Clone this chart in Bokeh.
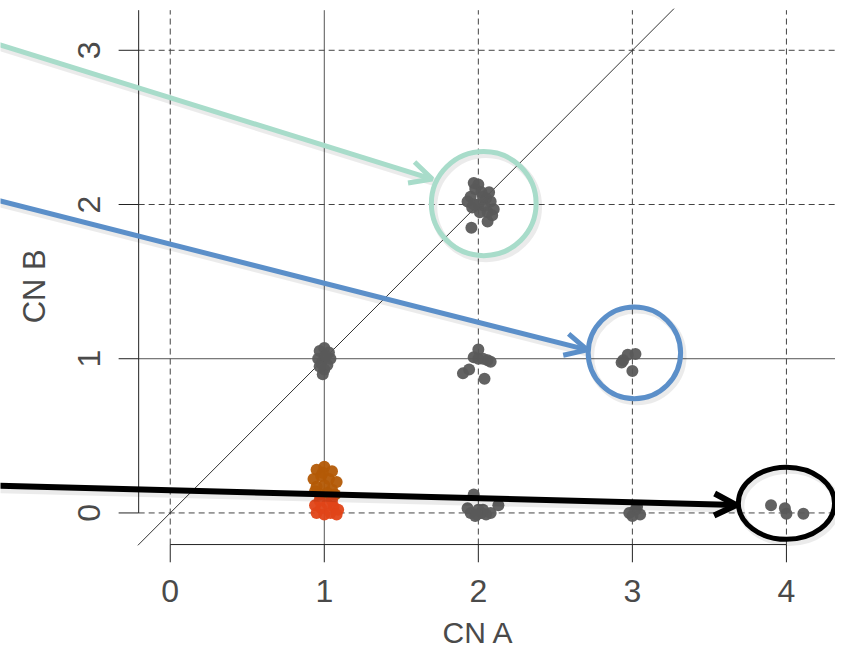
import math
from bokeh.plotting import figure
from bokeh.models import Range1d, Arrow, OpenHead
from bokeh.core.properties import value
from bokeh.embed import file_html
from bokeh.resources import INLINE

# ---- data ----
gray_x = [1.95, 1.98, 2.00, 2.02, 2.05, 1.93, 1.96, 2.00, 2.04, 2.08, 2.10, 2.06, 2.01, 1.97, 2.03, 2.07, 1.955, 2.06, 2.09, 1.97,
          0.97, 1.00, 1.03, 0.96, 1.00, 1.04, 0.98, 1.02, 1.00, 0.99, 1.01, 0.97,
          2.00, 1.97, 2.06, 2.08, 1.94, 1.90, 2.04, 2.00, 2.03,
          3.02, 2.97, 2.94, 2.93, 3.00,
          1.95, 1.98, 2.02, 2.05, 2.00, 1.93, 2.08, 2.13, 1.97, 2.03, 1.99,
          2.98, 3.02, 3.05, 3.00, 3.03,
          3.90, 3.99, 4.00, 4.11]
gray_y = [2.05, 2.10, 2.13, 2.08, 2.04, 2.02, 1.98, 2.00, 1.99, 2.02, 1.97, 1.95, 1.95, 2.00, 2.05, 2.08, 1.85, 1.89, 1.93, 2.14,
          1.05, 1.07, 1.04, 1.00, 1.01, 1.00, 0.97, 0.96, 0.93, 0.90, 1.02, 0.95,
          1.06, 1.01, 0.99, 0.98, 0.93, 0.905, 0.87, 1.00, 1.00,
          1.03, 1.025, 0.99, 0.975, 0.92,
          0.00, -0.02, 0.00, -0.01, 0.02, 0.03, 0.00, 0.05, 0.12, 0.02, -0.01,
          0.00, 0.02, -0.01, -0.02, 0.04,
          0.05, 0.03, -0.005, -0.005]
orange_x = [0.95, 1.00, 1.05, 0.93, 0.98, 1.03, 1.08, 0.95, 1.00, 1.05, 0.97, 1.02, 1.07, 0.94, 0.99]
orange_y = [0.28, 0.30, 0.27, 0.22, 0.24, 0.22, 0.20, 0.17, 0.18, 0.15, 0.12, 0.13, 0.12, 0.14, 0.26]
red_x = [0.94, 0.98, 1.02, 1.06, 1.09, 0.95, 1.00, 1.04, 1.08, 0.97, 1.05]
red_y = [0.05, 0.03, 0.06, 0.04, 0.02, 0.00, -0.01, 0.00, -0.01, 0.08, 0.08]

x_ticks = [0, 1, 2, 3, 4]
y_ticks = [0, 1, 2, 3]
x_title = "CN A"
y_title = "CN B"

# annotation circles: (x, y, width, height, colour)
ann_circles = [(2.035, 2.006, 0.68, 0.675, "#a8dcca"),
               (3.013, 1.038, 0.60, 0.595, "#5b8fc9"),
               (4.000, 0.063, 0.624, 0.468, "#000000")]
# annotation arrows: (x_start, y_start, x_end, y_end, colour, width)
ann_arrows = [(-1.12, 3.040, 1.701, 2.165, "#a8dcca", 5),
              (-1.12, 2.027, 2.707, 1.057, "#5b8fc9", 5),
              (-1.12, 0.177, 3.675, 0.051, "#000000", 6)]

# ---- figure ----
p = figure(width=835, height=653, output_backend="svg", toolbar_location=None,
           x_range=Range1d(-1.1019, 4.3185), y_range=Range1d(-0.9114, 3.3228),
           x_axis_type=None, y_axis_type=None, min_border=0)
p.grid.visible = False
p.outline_line_color = None

ax = -0.205   # axis position (both)
top = 3.26
right = 4.4
dash = "6 4"
gcol = "#444444"

# grid lines
for t in x_ticks:
    if t == 1:
        p.line([t, t], [ax, top], line_color="#555555", line_width=1)
    else:
        p.line([t, t], [ax, top], line_color=gcol, line_width=1, line_dash=dash)
for t in y_ticks:
    if t == 1:
        p.line([ax, right], [t, t], line_color="#555555", line_width=1)
    else:
        p.line([ax, right], [t, t], line_color=gcol, line_width=1, line_dash=dash)

# axes
p.line([ax, ax], [0, top], line_color="#222222", line_width=1)
p.line([0, 4], [ax, ax], line_color="#222222", line_width=1)
for t in x_ticks:
    p.line([t, t], [ax, ax - 0.115], line_color="#222222", line_width=1)
for t in y_ticks:
    p.line([ax, ax - 0.13], [t, t], line_color="#222222", line_width=1)

# diagonal
p.line([-0.21, 3.27], [-0.21, 3.27], line_color="#333333", line_width=1)

# points
p.scatter(gray_x, gray_y, size=12, fill_color="#5a5a5a", line_color=None, fill_alpha=0.95)
p.scatter(orange_x, orange_y, size=12, fill_color="#b35a06", line_color=None, fill_alpha=0.95)
p.scatter(red_x, red_y, size=12, fill_color="#e04518", line_color=None, fill_alpha=0.95)

# tick labels
font = value("Liberation Sans")
p.text(x=x_ticks, y=[-0.506] * len(x_ticks), text=[str(t) for t in x_ticks],
       text_font=font, text_font_size="32px", text_color="#4a4a4a",
       text_align="center", text_baseline="middle")
p.text(x=[-0.529] * len(y_ticks), y=y_ticks, text=[str(t) for t in y_ticks],
       text_font=font, text_font_size="32px", text_color="#4a4a4a",
       text_align="center", text_baseline="middle", angle=math.pi / 2)
p.text(x=[2.0], y=[-0.775], text=[x_title], text_font=font, text_font_size="30px",
       text_color="#4a4a4a", text_align="center", text_baseline="middle")
p.text(x=[-0.879], y=[1.47], text=[y_title], text_font=font, text_font_size="31px",
       text_color="#4a4a4a", text_align="center", text_baseline="middle", angle=math.pi / 2)

# annotation shadows
sx, sy = 0.016, -0.02
for (cx, cy, w, h, c) in ann_circles:
    p.ellipse(x=[cx + sx], y=[cy + sy], width=[w], height=[h], fill_color=None,
              line_color="#000000", line_alpha=0.08, line_width=7)
for (x0, y0, x1, y1, c, lw) in ann_arrows:
    p.line([x0 + sx, x1 + sx], [y0 + sy, y1 + sy], line_color="#000000", line_alpha=0.08, line_width=lw + 3)

# annotations
for (cx, cy, w, h, c) in ann_circles:
    p.ellipse(x=[cx], y=[cy], width=[w], height=[h], fill_color=None, line_color=c, line_width=5)
for (x0, y0, x1, y1, c, lw) in ann_arrows:
    p.add_layout(Arrow(x_start=x0, y_start=y0, x_end=x1, y_end=y1, line_color=c, line_width=lw,
                       end=OpenHead(size=22, line_color=c, line_width=lw)))

open("out.html", "w").write(file_html(p, INLINE))
